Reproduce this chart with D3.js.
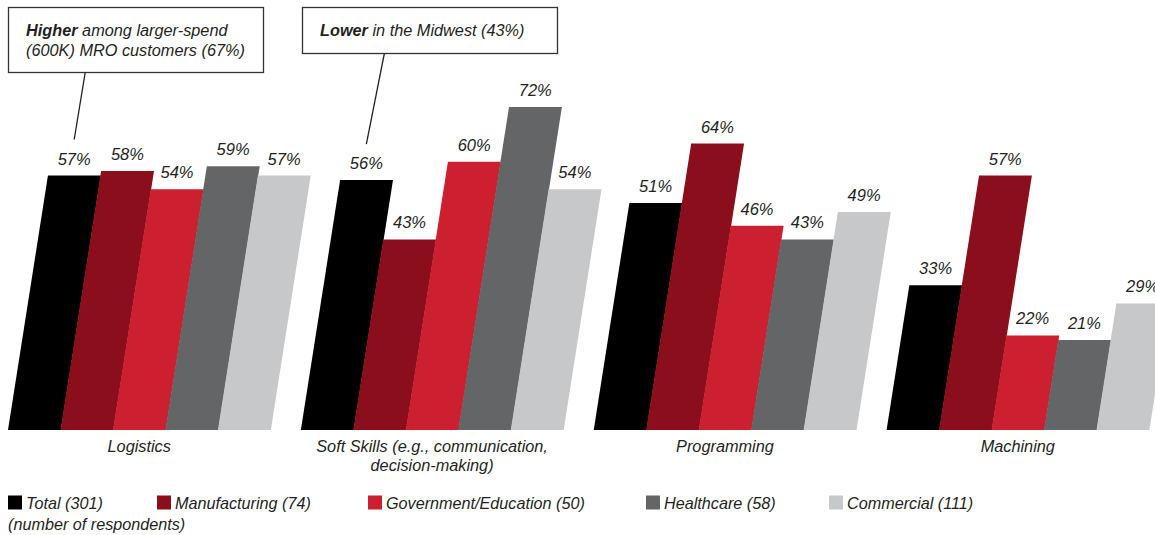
<!DOCTYPE html>
<html>
<head>
<meta charset="utf-8">
<script src="https://cdn.jsdelivr.net/npm/d3@7"></script>
<style>
  html, body { margin: 0; padding: 0; background: #fff; }
  svg { display: block; font-family: "Liberation Sans", Arial, Helvetica, sans-serif; }
  text { fill: #231f20; font-style: italic; }
</style>
</head>
<body>
<svg id="chart" width="1155" height="535"></svg>
<script>
// Skill categories and respondent groups
const categories = ["Logistics", "Soft Skills (e.g., communication,|decision-making)", "Programming", "Machining"];
const seriesNames = ["Total (301)", "Manufacturing (74)", "Government/Education (50)", "Healthcare (58)", "Commercial (111)"];
const seriesColors = ["#000000", "#8a0e1b", "#cc2031", "#646567", "#c7c8ca"];

// Percent of respondents, one array per group, in category order
const totalValues         = [57, 56, 51, 33];
const manufacturingValues = [58, 43, 64, 57];
const governmentValues    = [54, 60, 46, 22];
const healthcareValues    = [59, 72, 43, 21];
const commercialValues    = [57, 54, 49, 29];
const seriesValues = [totalValues, manufacturingValues, governmentValues, healthcareValues, commercialValues];

// Callout notes: [category index, bold lead, rest of line 1, line 2]
const callouts = [
  { cat: 0, bold: "Higher", rest: " among larger-spend", line2: "(600K) MRO customers (67%)" },
  { cat: 1, bold: "Lower", rest: " in the Midwest (43%)", line2: null }
];

const svg = d3.select("#chart");
const floorY = 430;      // bottom edge of the bars
const slant = 0.157;     // horizontal lean per pixel of bar height

const x0 = d3.scaleBand().domain(d3.range(categories.length)).range([8, 1149]).paddingInner(0.104).paddingOuter(0);
const x1 = d3.scaleBand().domain(d3.range(seriesNames.length)).range([0, x0.bandwidth()]).padding(0);
const y = d3.scaleLinear().domain([0, 100]).range([436, -21]);

const bars = [];
categories.forEach((c, ci) => {
  seriesNames.forEach((s, si) => {
    bars.push({ ci, si, v: seriesValues[si][ci] });
  });
});

function barGeom(d) {
  const bx = x0(d.ci) + x1(d.si);
  const w = x1.bandwidth();
  const top = y(d.v);
  const shift = slant * (floorY - top);
  return { bx, w, top, shift };
}

// Slanted bars
svg.append("g").selectAll("path").data(bars).join("path")
  .attr("d", d => {
    const g = barGeom(d);
    return `M${g.bx},${floorY}L${g.bx + g.w + 0.4},${floorY}L${g.bx + g.w + 0.4 + g.shift},${g.top}L${g.bx + g.shift},${g.top}Z`;
  })
  .attr("fill", d => seriesColors[d.si]);

// Value labels above each bar top
svg.append("g").selectAll("text").data(bars).join("text")
  .attr("x", d => { const g = barGeom(d); return g.bx + g.shift + g.w / 2; })
  .attr("y", d => y(d.v) - 11)
  .attr("text-anchor", "middle")
  .attr("font-size", 16.5)
  .text(d => d.v + "%");

// Category labels under each group
const catG = svg.append("g");
categories.forEach((c, ci) => {
  const lines = c.split("|");
  const t = catG.append("text")
    .attr("x", x0(ci) + x0.bandwidth() / 2)
    .attr("y", 452)
    .attr("text-anchor", "middle")
    .attr("font-size", 16.3);
  lines.forEach((ln, li) => {
    t.append("tspan").attr("x", x0(ci) + x0.bandwidth() / 2).attr("dy", li === 0 ? 0 : 19).text(ln);
  });
});

// Legend
const legendX = [8, 157, 368, 646, 829];
const lg = svg.append("g");
seriesNames.forEach((s, si) => {
  lg.append("rect").attr("x", legendX[si]).attr("y", 495.5).attr("width", 14).attr("height", 14).attr("fill", seriesColors[si]);
  lg.append("text").attr("x", legendX[si] + 18).attr("y", 509).attr("font-size", 16.2).text(s);
});
lg.append("text").attr("x", 8).attr("y", 530).attr("font-size", 16.2).text("(number of respondents)");

// Callout boxes with leader lines to the Total bar label
const boxes = [
  { x: 8, y: 7, w: 255, h: 65 },
  { x: 302, y: 7, w: 255, h: 46 }
];
callouts.forEach((co, i) => {
  const b = boxes[i];
  const g = svg.append("g");
  g.append("rect").attr("x", b.x + 0.5).attr("y", b.y + 0.5).attr("width", b.w).attr("height", b.h)
    .attr("fill", "#fff").attr("stroke", "#333").attr("stroke-width", 1.3);
  const t = g.append("text").attr("x", b.x + 18).attr("y", 36).attr("font-size", 16.3);
  t.append("tspan").attr("font-weight", "bold").text(co.bold);
  t.append("tspan").text(co.rest);
  if (co.line2) {
    g.append("text").attr("x", b.x + 18).attr("y", 56).attr("font-size", 16.3).text(co.line2);
  }
  const gm = barGeom({ ci: co.cat, si: 0, v: totalValues[co.cat] });
  const lx = gm.bx + gm.shift + gm.w / 2;
  const ly = y(totalValues[co.cat]) - 36;
  g.append("line")
    .attr("x1", lx + 11 + (i === 1 ? 7 : 0)).attr("y1", b.y + b.h + 0.5)
    .attr("x2", lx).attr("y2", ly)
    .attr("stroke", "#222").attr("stroke-width", 1.3);
});
</script>
</body>
</html>
